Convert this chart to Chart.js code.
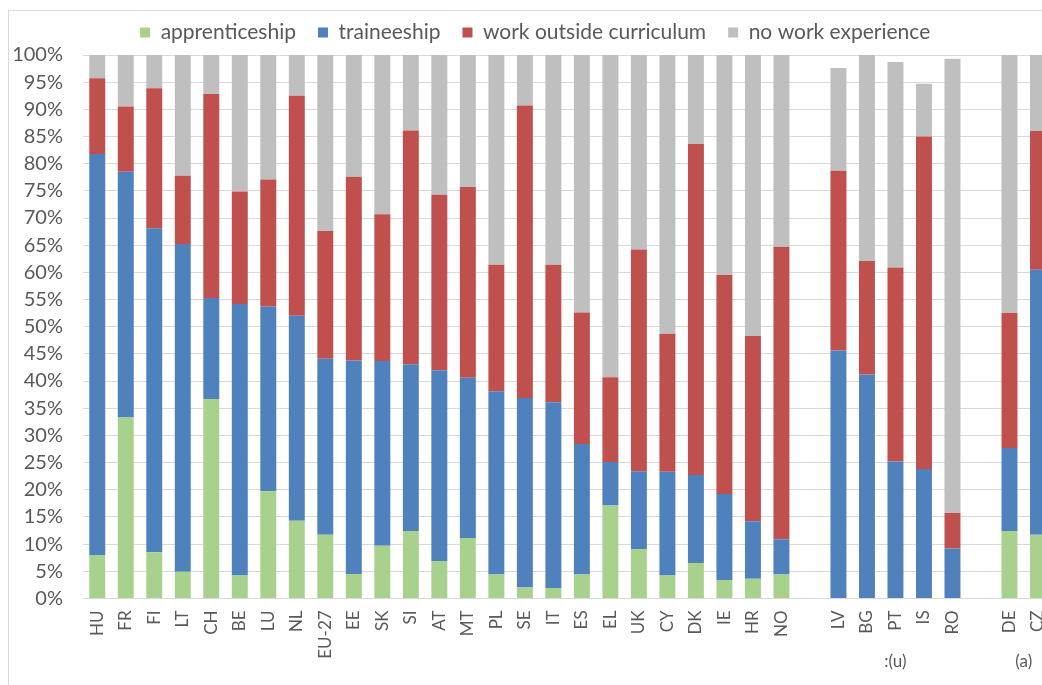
<!DOCTYPE html>
<html>
<head>
<meta charset="utf-8">
<script src="https://cdn.jsdelivr.net/npm/chart.js@4.4.1/dist/chart.umd.min.js"></script>
<style>
  html, body { margin: 0; padding: 0; background: #ffffff; overflow: hidden; width: 1042px; height: 685px; }
  #frame { position: absolute; left: 8px; top: 10px; width: 1100px; height: 700px; border-left: 1px solid #d9d9d9; border-top: 1px solid #d9d9d9; }
  #wrap { position: absolute; left: 0; top: 0; width: 1070.4px; height: 685px; }
</style>
</head>
<body>
<div id="frame"></div>
<div id="wrap"><canvas id="c"></canvas></div>
<script>
const categories = ['HU','FR','FI','LT','CH','BE','LU','NL','EU-27','EE','SK','SI','AT','MT','PL','SE','IT','ES','EL','UK','CY','DK','IE','HR','NO','','LV','BG','PT','IS','RO',' ','DE','CZ'];
const apprenticeship = [8.0,33.3,8.5,4.9,36.7,4.2,19.7,14.3,11.7,4.5,9.7,12.4,6.9,11.1,4.4,2.0,1.9,4.4,17.1,9.1,4.2,6.5,3.4,3.6,4.4,null,null,null,null,null,null,null,12.4,11.7];
const traineeship = [73.8,45.2,59.6,60.3,18.6,50.0,34.0,37.7,32.4,39.3,34.0,30.7,35.1,29.5,33.7,34.9,34.2,24.0,8.0,14.3,19.1,16.2,15.8,10.6,6.5,null,45.6,41.2,25.2,23.8,9.2,null,15.3,48.8];
const workOutsideCurriculum = [13.9,12.0,25.8,12.6,37.5,20.7,23.4,40.5,23.5,33.8,27.0,43.0,32.3,35.1,23.3,53.8,25.3,24.2,15.6,40.8,25.4,60.9,40.3,34.1,53.8,null,33.1,20.9,35.7,61.2,6.5,null,24.8,25.5];
const noWorkExperience = [4.3,9.5,6.1,22.2,7.2,25.1,22.9,7.5,32.4,22.4,29.3,13.9,25.7,24.3,38.6,9.3,38.6,47.4,59.3,35.8,51.3,16.4,40.5,51.7,35.3,null,18.9,37.9,37.8,9.7,83.6,null,47.5,14.0];
const seriesNames = ['apprenticeship','traineeship','work outside curriculum','no work experience'];
const yTicks = [0,5,10,15,20,25,30,35,40,45,50,55,60,65,70,75,80,85,90,95,100];
const groupNotes = [
  { text: ':(u)', from: 'LV', to: 'RO' },
  { text: '(a)', from: 'DE', to: 'CZ' }
];

const colors = ['#a9d18e','#4f81bd','#c0504d','#bfbfbf'];
const FONT = 'Lato, "Open Sans", sans-serif';
const TXT = '#595959';

const legendHeight = {
  id: 'legendHeight',
  beforeInit(chart) {
    const fit = chart.legend.fit;
    chart.legend.fit = function () { fit.bind(chart.legend)(); this.height = 55; };
  }
};

const notesPlugin = {
  id: 'groupNotes',
  afterDraw(chart) {
    const x = chart.scales.x;
    const ctx = chart.ctx;
    ctx.save();
    ctx.font = '17px ' + FONT;
    ctx.fillStyle = TXT;
    ctx.textAlign = 'center';
    ctx.textBaseline = 'middle';
    groupNotes.forEach(n => {
      const a = x.getPixelForValue(categories.indexOf(n.from));
      const b = x.getPixelForValue(categories.indexOf(n.to));
      ctx.fillText(n.text, (a + b) / 2, 662);
    });
    ctx.restore();
  }
};

const datasets = [apprenticeship, traineeship, workOutsideCurriculum, noWorkExperience].map((d, i) => ({
  label: seriesNames[i],
  data: d,
  backgroundColor: colors[i],
  borderWidth: 0,
  barPercentage: 0.56,
  categoryPercentage: 1.0
}));

new Chart(document.getElementById('c'), {
  type: 'bar',
  data: { labels: categories, datasets },
  plugins: [legendHeight, notesPlugin],
  options: {
    responsive: true,
    maintainAspectRatio: false,
    animation: false,
    layout: { padding: { top: 0, right: 0, left: 0, bottom: 0 } },
    plugins: {
      legend: {
        position: 'top',
        labels: {
          font: { family: FONT, size: 21 },
          color: TXT,
          boxWidth: 10,
          boxHeight: 10,
          padding: 22
        }
      },
      tooltip: { enabled: false }
    },
    scales: {
      x: {
        stacked: true,
        grid: { display: false, drawTicks: false },
        border: { display: true, color: '#d9d9d9', width: 1 },
        ticks: {
          autoSkip: false,
          maxRotation: 90,
          minRotation: 90,
          padding: 12,
          color: TXT,
          font: { family: FONT, size: 17 }
        },
        afterFit(s) { s.height = 86.6; }
      },
      y: {
        stacked: true,
        min: 0,
        max: 100,
        afterBuildTicks(s) { s.ticks = yTicks.map(v => ({ value: v })); },
        grid: { color: '#d9d9d9', lineWidth: 1, drawTicks: false },
        border: { display: false },
        ticks: {
          padding: 20,
          color: TXT,
          font: { family: FONT, size: 20 },
          callback: v => v + '%'
        },
        afterFit(s) { s.width = 83; }
      }
    }
  }
});
</script>
</body>
</html>
